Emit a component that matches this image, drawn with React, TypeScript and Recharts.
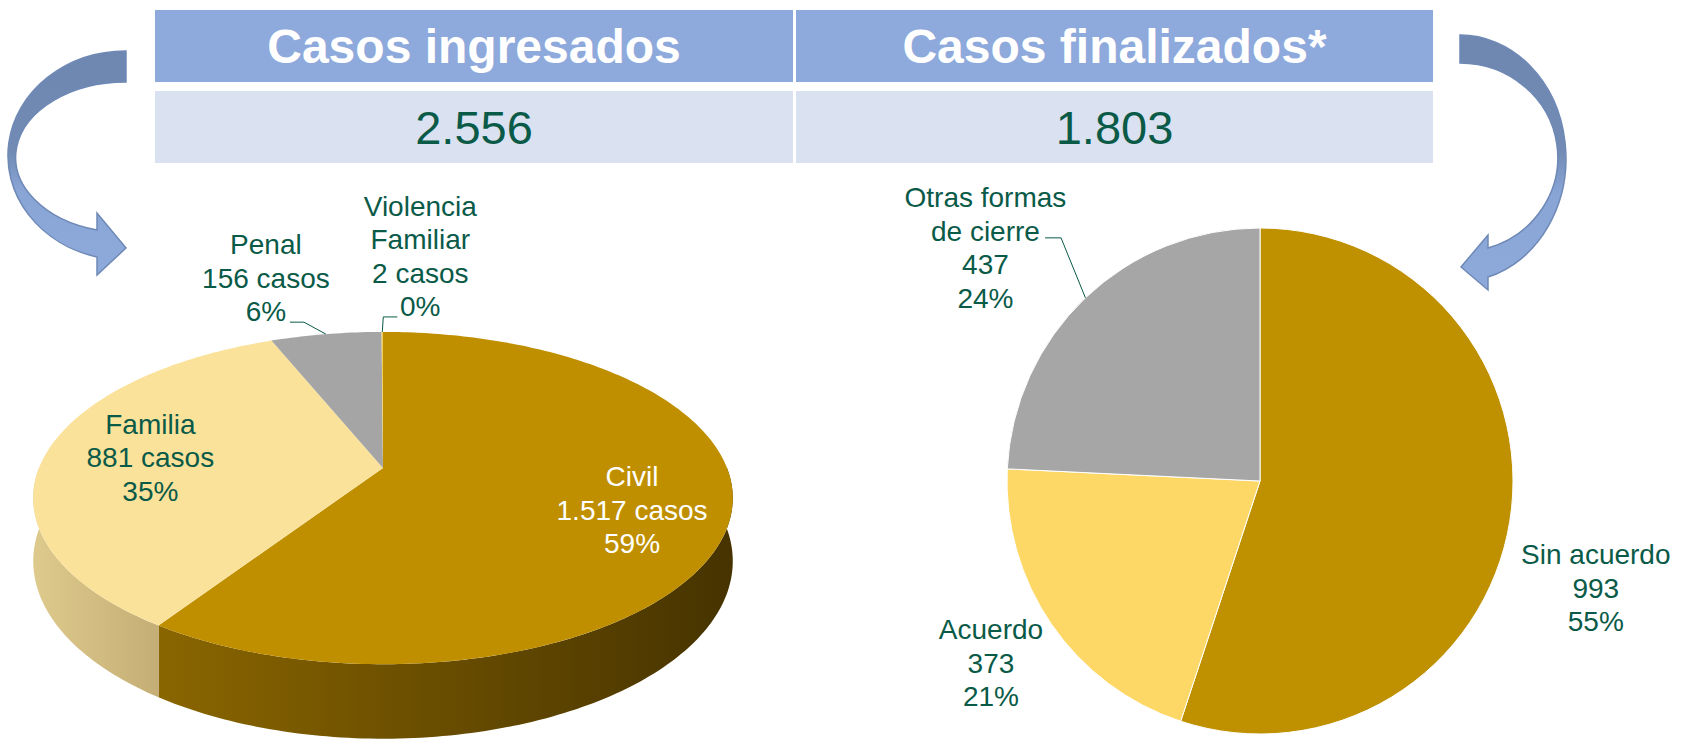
import { PieChart, Pie, Cell } from "recharts";

// datos
const headers = ["Casos ingresados", "Casos finalizados*"];

const ingresadosNames = ["Civil", "Familia", "Penal", "Violencia\nFamiliar"];
const ingresadosValues = [1517, 881, 156, 2];
const ingresadosPct = [59, 35, 6, 0];

const finalizadosNames = ["Sin acuerdo", "Acuerdo", "Otras formas\nde cierre"];
const finalizadosValues = [993, 373, 437];
const finalizadosPct = [55, 21, 24];

// estilos
const GREEN = "#0a5a48";
const FONT = "'Liberation Sans', Arial, sans-serif";
const LINE = 33.5;
const NO_MARGIN = { top: 0, right: 0, bottom: 0, left: 0 };
const leftTop = ["#BF8F00", "#FAE29B", "#A5A5A5", "#F2CF5B"];
const leftSide = [
  ["#8A6600", "#463300"],
  ["#DFCA8D", "#C4AE75"],
  ["#7F7F7F", "#5F5F5F"],
  ["#B89B40", "#9A8030"],
];
const rightColors = ["#BF9000", "#FDD867", "#A6A6A6"];

// perspectiva del pastel 3D
const PERSP = 0.181;
const TILT = 160.7 / 344;
const DEPTH = 61;

const leftLayout = [
  { f: 0.75, dx: -8, dy: 6, color: "#fff" },
  { f: 0.7, dx: 4, dy: 1, color: GREEN },
  { f: 1, dx: -60, dy: -56, color: GREEN, leader: [[-22, -12], [-36, -12]] },
  { f: 1, dx: 38, dy: -75.5, color: GREEN, leader: [[1, -15], [15, -15]] },
];

const rightLayout = [
  { dx: 86, dy: 67 },
  { dx: -60.5, dy: 39 },
  { dx: -100, dy: -50, leader: [[-24.4, -60], [-40.4, -60]] },
];

const fmt = (n: number) => String(n).replace(/\B(?=(\d{3})+(?!\d))/g, ".");
const sum = (a: number[]) => a.reduce((s, v) => s + v, 0);

const ingresadosData = ingresadosNames.map((name, i) => ({
  name,
  value: ingresadosValues[i],
  pct: ingresadosPct[i],
}));
const finalizadosData = finalizadosNames.map((name, i) => ({
  name,
  value: finalizadosValues[i],
  pct: finalizadosPct[i],
}));

function proj(cx: number, cy: number, R: number, r: number, a: number) {
  const rad = (a * Math.PI) / 180;
  const u = r * Math.cos(rad);
  const v = r * Math.sin(rad);
  const s = 1 / (1 + PERSP * v);
  return [cx + R * u * s, cy - R * TILT * v * s, s];
}

function textBlock(lines: string[], x: number, y: number, color: string) {
  return lines.map((t, i) => (
    <text
      key={i}
      x={x}
      y={y + (i - (lines.length - 1) / 2) * LINE}
      textAnchor="middle"
      dominantBaseline="central"
      fill={color}
      fontSize={28}
      fontFamily={FONT}
    >
      {t}
    </text>
  ));
}

function leader(ex: number, ey: number, pts: number[][]) {
  const d = `M${ex},${ey} ` + pts.map((p) => `L${ex + p[0]},${ey + p[1]}`).join(" ");
  return <path d={d} fill="none" stroke={GREEN} strokeWidth={1} />;
}

function Slice3D(props: any) {
  const { cx, cy, outerRadius: R, startAngle, endAngle, midAngle, index, payload } = props;
  const pts = (a1: number, a2: number, d: number) => {
    const n = Math.max(2, Math.ceil(Math.abs(a2 - a1)));
    const out: string[] = [];
    for (let i = 0; i <= n; i++) {
      const a = a1 + ((a2 - a1) * i) / n;
      const [x, y, s] = proj(cx, cy, R, 1, a);
      out.push(`${x.toFixed(2)},${(y + d * s).toFixed(2)}`);
    }
    return out;
  };
  const top = `M${cx},${cy} L` + pts(startAngle, endAngle, 0).join(" L") + " Z";
  const lo0 = Math.min(startAngle, endAngle);
  const hi0 = Math.max(startAngle, endAngle);
  const sides: string[] = [];
  for (const k of [-360, 0, 360]) {
    const lo = Math.max(lo0, k - 180);
    const hi = Math.min(hi0, k);
    if (hi > lo) {
      sides.push(
        "M" + pts(hi, lo, 0).join(" L") + " L" + pts(lo, hi, DEPTH).join(" L") + " Z"
      );
    }
  }
  const lay = leftLayout[index];
  const [ex, ey] = proj(cx, cy, R, lay.f, midAngle);
  const lines = [
    ...String(payload.name).split("\n"),
    `${fmt(payload.value)} casos`,
    `${payload.pct}%`,
  ];
  const gid = `side-grad-${index}`;
  return (
    <g>
      <defs>
        <linearGradient id={gid} x1="0" y1="0" x2="1" y2="0">
          <stop offset="0" stopColor={leftSide[index][0]} />
          <stop offset="1" stopColor={leftSide[index][1]} />
        </linearGradient>
      </defs>
      {sides.map((d, i) => (
        <path key={i} d={d} fill={`url(#${gid})`} />
      ))}
      <path d={top} fill={leftTop[index]} />
      {lay.leader && leader(ex, ey, lay.leader)}
      {textBlock(lines, ex + lay.dx, ey + lay.dy, lay.color)}
    </g>
  );
}

function rightLabel(props: any) {
  const { cx, cy, outerRadius, midAngle, index, payload } = props;
  const rad = (-midAngle * Math.PI) / 180;
  const ex = cx + outerRadius * Math.cos(rad);
  const ey = cy + outerRadius * Math.sin(rad);
  const lay = rightLayout[index];
  const lines = [...String(payload.name).split("\n"), fmt(payload.value), `${payload.pct}%`];
  return (
    <g>
      {lay.leader && leader(ex, ey, lay.leader)}
      {textBlock(lines, ex + lay.dx, ey + lay.dy, GREEN)}
    </g>
  );
}

function Arrows() {
  return (
    <svg
      width={1686}
      height={741}
      style={{ position: "absolute", left: 0, top: 0, pointerEvents: "none" }}
    >
      <defs>
        <linearGradient id="arrowGrad" x1="0" y1="0" x2="0" y2="1">
          <stop offset="0" stopColor="#6E87B0" />
          <stop offset="0.45" stopColor="#728BB4" />
          <stop offset="0.62" stopColor="#89A5D6" />
          <stop offset="1" stopColor="#8EAADB" />
        </linearGradient>
      </defs>
      <path
        d="M126,51 A118,104.6 0 0 0 97,257 L97,275 L126,248 L97,213 L97,230 A110,75.3 0 0 1 126,82 Z"
        fill="url(#arrowGrad)"
        stroke="#6F89B6"
        strokeWidth={1.5}
      />
      <path
        d="M1460,35 A106,123.2 0 0 1 1488,277 L1488,290 L1461,267 L1488,235 L1488,248 A98,94.5 0 0 0 1460,63 Z"
        fill="url(#arrowGrad)"
        stroke="#6F89B6"
        strokeWidth={1.5}
      />
    </svg>
  );
}

export default function App() {
  const totals = [sum(ingresadosValues), sum(finalizadosValues)];
  const cols = [
    { left: 155, width: 638 },
    { left: 796, width: 637 },
  ];
  return (
    <div
      style={{
        position: "relative",
        width: 1686,
        height: 741,
        background: "#fff",
        overflow: "hidden",
        fontFamily: FONT,
      }}
    >
      <style>{"body{margin:0}"}</style>
      {cols.map((c, i) => (
        <div key={i}>
          <div
            style={{
              position: "absolute",
              left: c.left,
              top: 10,
              width: c.width,
              height: 72,
              background: "#8EA9DB",
              color: "#fff",
              fontWeight: "bold",
              fontSize: 48,
              display: "flex",
              alignItems: "center",
              justifyContent: "center",
            }}
          >
            {headers[i]}
          </div>
          <div
            style={{
              position: "absolute",
              left: c.left,
              top: 91,
              width: c.width,
              height: 72,
              background: "#DAE1F0",
              color: GREEN,
              fontSize: 47,
              display: "flex",
              alignItems: "center",
              justifyContent: "center",
            }}
          >
            {fmt(totals[i])}
          </div>
        </div>
      ))}

      <div style={{ position: "absolute", left: 0, top: 0 }}>
        <PieChart width={843} height={741} margin={NO_MARGIN}>
          <Pie
            data={ingresadosData}
            dataKey="value"
            nameKey="name"
            cx={383}
            cy={468}
            outerRadius={344}
            startAngle={90}
            endAngle={-270}
            fill="transparent"
            stroke="none"
            label={Slice3D}
            labelLine={false}
            isAnimationActive={false}
          />
        </PieChart>
      </div>

      <div style={{ position: "absolute", left: 843, top: 0 }}>
        <PieChart width={843} height={741} margin={NO_MARGIN}>
          <Pie
            data={finalizadosData}
            dataKey="value"
            nameKey="name"
            cx={417}
            cy={481}
            outerRadius={253}
            startAngle={90}
            endAngle={-270}
            stroke="#fff"
            strokeWidth={1}
            label={rightLabel}
            labelLine={false}
            isAnimationActive={false}
          >
            {finalizadosData.map((d, i) => (
              <Cell key={d.name} fill={rightColors[i]} />
            ))}
          </Pie>
        </PieChart>
      </div>

      <Arrows />
    </div>
  );
}
